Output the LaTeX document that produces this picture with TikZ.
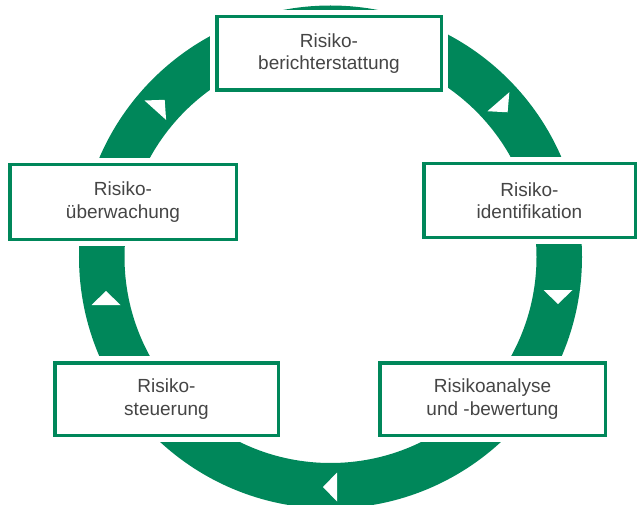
\documentclass[tikz,border=0pt]{standalone}
\usepackage{fontspec}
\setmainfont{Liberation Sans}
\definecolor{ringgreen}{HTML}{00875A}
\definecolor{txtgray}{HTML}{454545}
\tikzset{
  stagebox/.style={draw=ringgreen, line width=3.5pt, fill=white,
    preaction={draw=white, line width=13.5pt},
    inner sep=0pt, align=center, text=txtgray,
    font=\fontsize{19}{22.5}\selectfont}
}
\begin{document}
\begin{tikzpicture}[x=1pt,y=1pt]
\useasboundingbox (0,0) rectangle (639,504);
\begin{scope}
\clip (0,0) rectangle (639,504);
\draw[ringgreen, line width=45.5pt] (330.5,247) circle (228.75);
\foreach \px/\py/\d in {160/399/48, 503/397/-49, 558/207/-90, 106/206/90, 330/17/180}{
  \fill[white, shift={(\px,\py)}, rotate=\d] (7,0) -- (-7,14.5) -- (-7,-14.5) -- cycle;
}
\end{scope}
\node[stagebox, minimum width=224.5pt, minimum height=73.5pt] (ber) at (329,450.5) {Risiko-\\berichterstattung};
\node[stagebox, minimum width=226.5pt, minimum height=74.5pt] (ueb) at (123,302) {Risiko-\\überwachung};
\node[stagebox, minimum width=211.5pt, minimum height=73.5pt] (ide) at (529.5,303.5) {Risiko-\\identifikation};
\node[stagebox, minimum width=223.5pt, minimum height=72.5pt] (ste) at (166.5,105) {Risiko-\\steuerung};
\node[stagebox, minimum width=225.5pt, minimum height=72.5pt] (ana) at (492.5,105) {Risikoanalyse\\und -bewertung};
\end{tikzpicture}
\end{document}
